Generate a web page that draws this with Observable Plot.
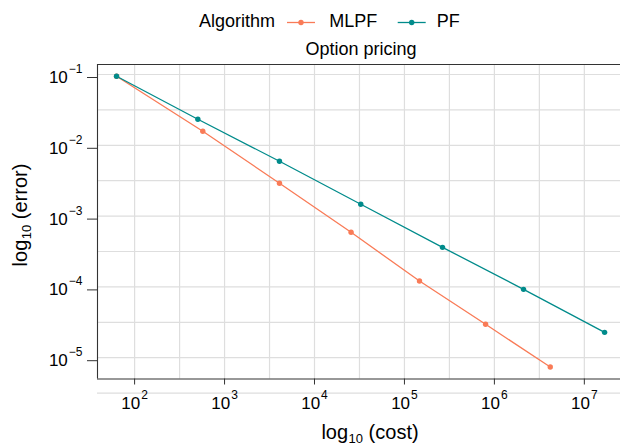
<!DOCTYPE html>
<html>
<head>
<meta charset="utf-8">
<script src="https://cdn.jsdelivr.net/npm/d3@7"></script>
<script src="https://cdn.jsdelivr.net/npm/@observablehq/plot@0.6"></script>
<style>
  html, body { margin: 0; padding: 0; background: #fff; overflow: hidden; }
  body { width: 620px; height: 444px; font-family: "Liberation Sans", Arial, sans-serif; }
  #header { display: block; }
  #chart svg { display: block; }
</style>
</head>
<body>
<svg id="header" width="620" height="60"></svg>
<div id="chart"></div>
<script>
// ---- data ----
const algorithms = ["MLPF", "PF"];
const colors = ["#f97b57", "#008b8b"];
const mlpfCost  = [63, 573, 4080, 25500, 147000, 798000, 4180000];
const mlpfError = [0.0946, 0.0158, 0.00291, 0.00059, 0.000121, 0.0000296, 0.0000074];
const pfCost    = [63, 505, 4080, 32700, 265000, 2110000, 16800000];
const pfError   = [0.0946, 0.0233, 0.00596, 0.00147, 0.000362, 0.0000923, 0.0000228];
const xTickExponents = [2, 3, 4, 5, 6, 7];
const yTickExponents = [-1, -2, -3, -4, -5];
const titleText = "Option pricing";
const legendTitle = "Algorithm";

// ---- derived tables ----
const data = [
  ...mlpfCost.map((c, i) => ({algorithm: "MLPF", cost: c, error: mlpfError[i]})),
  ...pfCost.map((c, i) => ({algorithm: "PF", cost: c, error: pfError[i]}))
];
const xTicks = xTickExponents.map(e => 10 ** e);
const yTicks = yTickExponents.map(e => 10 ** e);
const xGrid = [...xTickExponents, ...xTickExponents.map(e => e + 0.5)].map(e => 10 ** e);
const yGrid = [...yTickExponents, ...yTickExponents.map(e => e - 0.5)].map(e => 10 ** e);
const xDomain = [10 ** 1.5875, 10 ** 7.402];
const yDomain = [10 ** -5.301, 10 ** -0.8587];

const FONT = '"Liberation Sans", Arial, sans-serif';
const gridStyle = {stroke: "#dedede", strokeOpacity: 1, strokeWidth: 1.2};

const chart = Plot.plot({
  width: 620,
  height: 384,
  marginTop: 4,
  marginBottom: 65.5,
  marginLeft: 97,
  marginRight: 0,
  style: {fontFamily: FONT, fontSize: "17px", color: "#000", background: "#fff"},
  x: {type: "log", domain: xDomain},
  y: {type: "log", domain: yDomain},
  color: {domain: algorithms, range: colors},
  marks: [
    Plot.gridX(xGrid, gridStyle),
    Plot.gridY(yGrid, gridStyle),
    Plot.ruleX([xDomain[0]], {stroke: "#333", strokeWidth: 1.1}),
    Plot.ruleY(yDomain, {stroke: "#333", strokeWidth: 1.1}),
    Plot.line(data, {x: "cost", y: "error", stroke: "algorithm", strokeWidth: 1.3}),
    Plot.dot(data, {x: "cost", y: "error", fill: "algorithm", r: 2.7}),
    Plot.axisX(xTicks, {
      tickFormat: d => String(Math.round(Math.log10(d))),
      tickSize: 6, tickPadding: 12.4, label: null, fontSize: 17, stroke: "#333"
    }),
    Plot.axisY(yTicks, {
      tickFormat: d => String(Math.round(Math.log10(d))).replace("-", "\u2212"),
      tickSize: 10, tickPadding: 5, dy: 3, label: null, fontSize: 17, stroke: "#333"
    })
  ]
});
document.getElementById("chart").appendChild(chart);

// superscript tick labels: 10^e
function toPower(textEl) {
  const e = textEl.textContent;
  textEl.textContent = "";
  const ns = "http://www.w3.org/2000/svg";
  const base = document.createElementNS(ns, "tspan");
  base.textContent = "10";
  const sup = document.createElementNS(ns, "tspan");
  sup.textContent = e;
  sup.setAttribute("dy", "-10");
  sup.setAttribute("dx", "1");
  sup.setAttribute("font-size", "12");
  textEl.appendChild(base);
  textEl.appendChild(sup);
}
chart.querySelectorAll('[aria-label="x-axis tick label"] text, [aria-label="y-axis tick label"] text').forEach(toPower);

// axis titles with subscript
const svg = d3.select(chart);
function subTitle(sel, rest) {
  sel.append("tspan").text("log");
  sel.append("tspan").attr("font-size", 13).attr("dy", 4).attr("dx", 0.5).text("10");
  sel.append("tspan").attr("dy", -4).text(" " + rest);
}
const xt = svg.append("text")
  .attr("x", 370).attr("y", 378.5)
  .attr("text-anchor", "middle")
  .attr("font-family", FONT).attr("font-size", 20).attr("fill", "#000");
subTitle(xt, "(cost)");
const yt = svg.append("text")
  .attr("transform", "translate(26.5,155) rotate(-90)")
  .attr("text-anchor", "middle")
  .attr("font-family", FONT).attr("font-size", 20).attr("fill", "#000");
subTitle(yt, "(error)");

// ---- header: legend + title ----
const header = d3.select("#header");
header.append("text").attr("x", 199).attr("y", 26.7)
  .attr("font-family", FONT).attr("font-size", 18).text(legendTitle);
const keys = [{x: 287, tx: 329.3}, {x: 397.7, tx: 436.7}];
algorithms.forEach((a, i) => {
  const g = header.append("g");
  g.append("line").attr("x1", keys[i].x).attr("x2", keys[i].x + 28)
    .attr("y1", 22.5).attr("y2", 22.5).attr("stroke", colors[i]).attr("stroke-width", 1.3);
  g.append("circle").attr("cx", keys[i].x + 14).attr("cy", 22.5).attr("r", 2.7).attr("fill", colors[i]);
  g.append("text").attr("x", keys[i].tx).attr("y", 26.7)
    .attr("font-family", FONT).attr("font-size", 18).text(a);
});
header.append("text").attr("x", 361).attr("y", 55).attr("text-anchor", "middle")
  .attr("font-family", FONT).attr("font-size", 18).text(titleText);
</script>
</body>
</html>
